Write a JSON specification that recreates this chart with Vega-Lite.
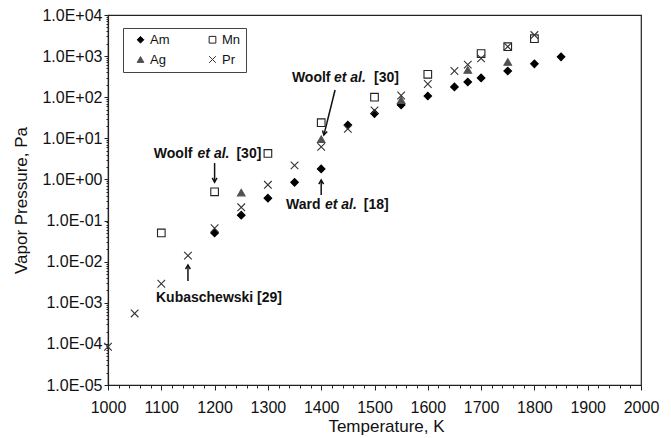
{
  "$schema": "https://vega.github.io/schema/vega-lite/v6.json",
  "width": 533,
  "height": 370,
  "autosize": "none",
  "padding": {"left": 108, "top": 15, "right": 30, "bottom": 53},
  "background": "white",
  "config": {
    "font": "Liberation Sans",
    "view": {"stroke": "#222", "strokeWidth": 1.2},
    "axis": {"grid": false, "domainColor": "#222", "domainWidth": 1.2, "tickColor": "#222", "labelColor": "#111", "labelFontSize": 16, "titleFontSize": 17, "titleFontWeight": "normal", "titleColor": "#111", "labelOverlap": false, "labelFlush": false},
    "legend": {"orient": "none", "legendX": 15, "legendY": 13, "columns": 2, "strokeColor": "#444", "padding": 5, "symbolOffset": 6, "labelFontSize": 13, "labelColor": "#111", "symbolSize": 45, "symbolStrokeWidth": 1, "columnPadding": 30, "rowPadding": 6, "labelOffset": 3}
  },
  "datasets": {
    "pts": [
      {"T": 1200, "P": 0.05, "s": "Am"}, {"T": 1250, "P": 0.135, "s": "Am"}, {"T": 1300, "P": 0.35, "s": "Am"}, {"T": 1350, "P": 0.85, "s": "Am"}, {"T": 1400, "P": 1.8, "s": "Am"}, {"T": 1450, "P": 21, "s": "Am"}, {"T": 1500, "P": 40, "s": "Am"}, {"T": 1550, "P": 65, "s": "Am"}, {"T": 1600, "P": 107, "s": "Am"}, {"T": 1650, "P": 178, "s": "Am"}, {"T": 1675, "P": 235, "s": "Am"}, {"T": 1700, "P": 295, "s": "Am"}, {"T": 1750, "P": 435, "s": "Am"}, {"T": 1800, "P": 650, "s": "Am"}, {"T": 1850, "P": 960, "s": "Am"},
      {"T": 1100, "P": 0.05, "s": "Mn"}, {"T": 1200, "P": 0.5, "s": "Mn"}, {"T": 1300, "P": 4.3, "s": "Mn"}, {"T": 1400, "P": 24, "s": "Mn"}, {"T": 1500, "P": 100, "s": "Mn"}, {"T": 1600, "P": 360, "s": "Mn"}, {"T": 1700, "P": 1150, "s": "Mn"}, {"T": 1750, "P": 1700, "s": "Mn"}, {"T": 1800, "P": 2650, "s": "Mn"},
      {"T": 1250, "P": 0.48, "s": "Ag"}, {"T": 1400, "P": 9.5, "s": "Ag"}, {"T": 1550, "P": 85, "s": "Ag"}, {"T": 1675, "P": 460, "s": "Ag"}, {"T": 1750, "P": 720, "s": "Ag"},
      {"T": 1000, "P": 0.000085, "s": "Pr"}, {"T": 1050, "P": 0.00055, "s": "Pr"}, {"T": 1100, "P": 0.0029, "s": "Pr"}, {"T": 1150, "P": 0.014, "s": "Pr"}, {"T": 1200, "P": 0.065, "s": "Pr"}, {"T": 1250, "P": 0.21, "s": "Pr"}, {"T": 1300, "P": 0.74, "s": "Pr"}, {"T": 1350, "P": 2.2, "s": "Pr"}, {"T": 1400, "P": 6.2, "s": "Pr"}, {"T": 1450, "P": 17, "s": "Pr"}, {"T": 1500, "P": 48, "s": "Pr"}, {"T": 1550, "P": 110, "s": "Pr"}, {"T": 1600, "P": 210, "s": "Pr"}, {"T": 1650, "P": 435, "s": "Pr"}, {"T": 1675, "P": 620, "s": "Pr"}, {"T": 1700, "P": 880, "s": "Pr"}, {"T": 1750, "P": 1700, "s": "Pr"}, {"T": 1800, "P": 3250, "s": "Pr"}
    ],
    "labels": [
      {"T": 1345, "P": 234, "t": "Woolf"}, {"T": 1424, "P": 234, "t": "et al."}, {"T": 1499, "P": 234, "t": "[30]"},
      {"T": 1086, "P": 3.3, "t": "Woolf"}, {"T": 1168, "P": 3.3, "t": "et al."}, {"T": 1241, "P": 3.3, "t": "[30]"},
      {"T": 1334, "P": 0.19, "t": "Ward"}, {"T": 1407, "P": 0.19, "t": "et al."}, {"T": 1480, "P": 0.19, "t": "[18]"},
      {"T": 1090, "P": 0.00105, "t": "Kubaschewski [29]"}
    ],
    "arrows": [
      {"T": 1405, "P": 12, "T2": 1426, "P2": 150, "dir": "slant"},
      {"T": 1200, "P": 0.86, "T2": 1200, "P2": 2.5, "dir": "down"},
      {"T": 1400, "P": 0.97, "T2": 1400, "P2": 0.42, "dir": "up"},
      {"T": 1150, "P": 0.0083, "T2": 1150, "P2": 0.0034, "dir": "up"}
    ]
  },
  "encoding": {
    "x": {
      "field": "T", "type": "quantitative",
      "scale": {"domain": [1000, 2000], "nice": false, "zero": false},
      "axis": {
        "title": "Temperature, K",
        "values": [1000,1020,1040,1060,1080,1100,1120,1140,1160,1180,1200,1220,1240,1260,1280,1300,1320,1340,1360,1380,1400,1420,1440,1460,1480,1500,1520,1540,1560,1580,1600,1620,1640,1660,1680,1700,1720,1740,1760,1780,1800,1820,1840,1860,1880,1900,1920,1940,1960,1980,2000],
        "format": "d",
        "labelExpr": "datum.value % 100 === 0 ? datum.label : ''",
        "tickSize": {"condition": {"test": "datum.value % 100 === 0", "value": 5}, "value": 3},
        "labelPadding": 9,
        "titlePadding": 3,
        "titleX": 278
      }
    },
    "y": {
      "field": "P", "type": "quantitative",
      "scale": {"type": "log", "domain": [0.00001, 10000], "nice": false},
      "axis": {
        "title": "Vapor Pressure, Pa",
        "values": [0.00001,0.00002,0.00003,0.00004,0.00005,0.00006,0.00007,0.00008,0.00009,0.0001,0.0002,0.0003,0.0004,0.0005,0.0006,0.0007,0.0008,0.0009,0.001,0.002,0.003,0.004,0.005,0.006,0.007,0.008,0.009,0.01,0.02,0.03,0.04,0.05,0.06,0.07,0.08,0.09,0.1,0.2,0.3,0.4,0.5,0.6,0.7,0.8,0.9,1,2,3,4,5,6,7,8,9,10,20,30,40,50,60,70,80,90,100,200,300,400,500,600,700,800,900,1000,2000,3000,4000,5000,6000,7000,8000,9000,10000],
        "labelExpr": "abs(log(datum.value)/LN10 - round(log(datum.value)/LN10)) < 0.001 ? '1.0E' + (round(log(datum.value)/LN10) >= 0 ? '+' : '-') + '0' + abs(round(log(datum.value)/LN10)) : ''",
        "tickSize": {"condition": {"test": "abs(log(datum.value)/LN10 - round(log(datum.value)/LN10)) < 0.001", "value": 4}, "value": 2},
        "labelPadding": 2,
        "titlePadding": 11
      }
    }
  },
  "layer": [
    {
      "data": {"name": "pts"},
      "mark": {"type": "point", "strokeWidth": 1.1, "opacity": 1},
      "encoding": {
        "shape": {"field": "s", "type": "nominal", "title": null, "scale": {"domain": ["Am", "Ag", "Mn", "Pr"], "range": ["diamond", "triangle-up", "square", "M-1,-1L1,1M-1,1L1,-1"]}},
        "fill": {"field": "s", "type": "nominal", "title": null, "scale": {"domain": ["Am", "Ag", "Mn", "Pr"], "range": ["#000000", "#505050", "transparent", "transparent"]}},
        "stroke": {"field": "s", "type": "nominal", "title": null, "scale": {"domain": ["Am", "Ag", "Mn", "Pr"], "range": ["#000000", "#505050", "#222222", "#333333"]}},
        "size": {"value": 58}
      }
    },
    {
      "data": {"name": "arrows"},
      "mark": {"type": "rule", "strokeWidth": 1.5, "color": "#111"},
      "encoding": {"x2": {"field": "T2"}, "y2": {"field": "P2"}}
    },
    {
      "data": {"name": "arrows"},
      "transform": [{"filter": "datum.dir === 'down'"}],
      "mark": {"type": "point", "shape": "M-0.8,-1.4L0,0L0.8,-1.4", "size": 36, "strokeWidth": 1.5, "color": "#111", "filled": false, "angle": 0, "opacity": 1},
      "encoding": {}
    },
    {
      "data": {"name": "arrows"},
      "transform": [{"filter": "datum.dir === 'up'"}],
      "mark": {"type": "point", "shape": "M-0.8,-1.4L0,0L0.8,-1.4", "size": 36, "strokeWidth": 1.5, "color": "#111", "filled": false, "angle": 180, "opacity": 1},
      "encoding": {}
    },
    {
      "data": {"name": "arrows"},
      "transform": [{"filter": "datum.dir === 'slant'"}],
      "mark": {"type": "point", "shape": "M-0.8,-1.4L0,0L0.8,-1.4", "size": 36, "strokeWidth": 1.5, "color": "#111", "filled": false, "angle": 14, "opacity": 1},
      "encoding": {}
    },
    {
      "data": {"name": "labels"},
      "transform": [{"filter": "datum.t !== 'et al.'"}],
      "mark": {"type": "text", "align": "left", "baseline": "alphabetic", "fontSize": 14, "fontWeight": "bold", "color": "#111"},
      "encoding": {"text": {"field": "t"}}
    },
    {
      "data": {"name": "labels"},
      "transform": [{"filter": "datum.t === 'et al.'"}],
      "mark": {"type": "text", "align": "left", "baseline": "alphabetic", "fontSize": 14, "fontWeight": "bold", "fontStyle": "italic", "color": "#111"},
      "encoding": {"text": {"field": "t"}}
    }
  ]
}
